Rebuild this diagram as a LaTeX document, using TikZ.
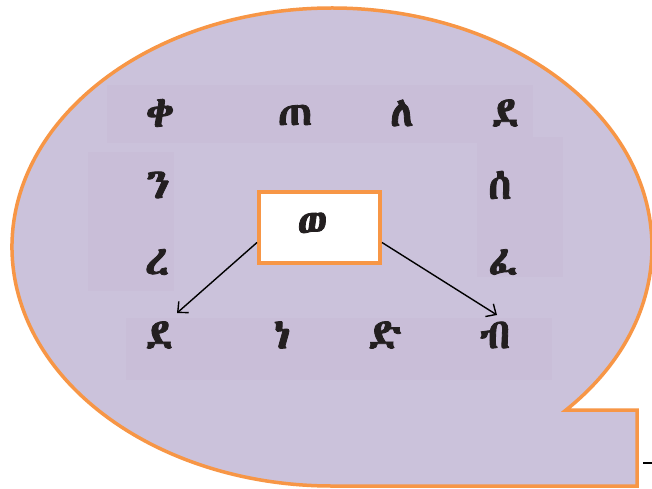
\documentclass[tikz,border=0pt]{standalone}
\usepackage{fontspec}
\usetikzlibrary{calc,arrows.meta}
\IfFontExistsTF{Abyssinica SIL}{\newfontfamily\ethfont[Script=Ethiopic,FakeBold=2]{Abyssinica SIL}}{%
 \IfFontExistsTF{FreeSerif}{\newfontfamily\ethfont[FakeBold=2]{FreeSerif}}{%
  \IfFontExistsTF{FreeSans}{\newfontfamily\ethfont[FakeBold=2]{FreeSans}}{\newfontfamily\ethfont{DejaVu Sans}}}}
\definecolor{lav}{HTML}{CBC2DB}
\definecolor{lavd}{HTML}{C9BED8}
\definecolor{org}{HTML}{F79646}
\definecolor{ink}{HTML}{231F20}
\tikzset{
  letter/.style={font=\ethfont\fontsize{42}{48}\selectfont, text=ink, inner sep=0pt},
  bubble/.style={draw=org, line width=3.5pt, fill=lav},
  band/.style={fill=lavd},
  centerbox/.style={draw=org, line width=4pt, fill=white, minimum width=121pt, minimum height=71pt, inner sep=0pt},
  arr/.style={draw=black, line width=1.4pt, -{Straight Barb[length=8pt,width=15pt]}}
}
\begin{document}
\begin{tikzpicture}[x=1pt,y=-1pt]
\useasboundingbox (0,0) rectangle (652,489);
\fill[white] (0,0) rectangle (652,489);
% speech bubble
\draw[bubble] (566,410) arc[start angle=43, end angle=-270, x radius=320, y radius=239] -- (637,486) -- (637,410) -- cycle;
% subtle bands
\fill[band] (107,85) rectangle (533,143);
\fill[band] (88,152) rectangle (174,291);
\fill[band] (477,137) rectangle (563,277);
\fill[band] (126,318) rectangle (552,380);
% letters
\node[letter] (a1) at (160,113) {ቀ};
\node[letter] (a2) at (295,115) {ጠ};
\node[letter] (a3) at (402,113) {ለ};
\node[letter] (a4) at (505,113) {ደ};
\node[letter] (l1) at (158,185) {ን};
\node[letter] (r1) at (500,185) {ሰ};
\node[letter] (l2) at (157,262) {ረ};
\node[letter] (r2) at (503,262) {ፈ};
\node[letter] (b1) at (159,335) {ደ};
\node[letter] (b2) at (282,335) {ነ};
\node[letter] (b3) at (385,335) {ድ};
\node[letter] (b4) at (495,335) {ብ};
% center box
\node[centerbox] (box) at (319.5,227.5) {};
\node[letter] (w) at (312,225) {ወ};
% arrows
\coordinate (tipL) at ($(b1)+(18,-22)$);
\coordinate (tipR) at ($(b4)+(2,-20)$);
\draw[arr] ($(box.north west)!0.7!(box.south west)$) -- (tipL);
\draw[arr] ($(box.north east)!0.7!(box.south east)$) -- (tipR);
% edge fragment
\draw[line width=2pt] (643,463) -- (652,463);
\end{tikzpicture}
\end{document}
